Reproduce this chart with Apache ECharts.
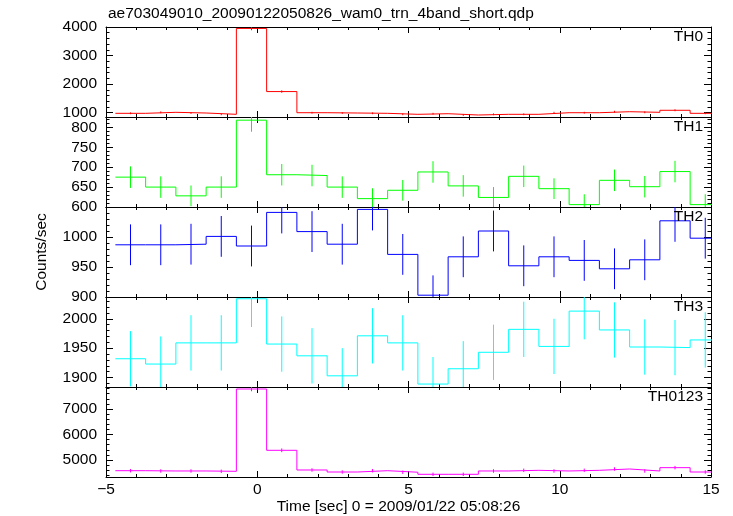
<!DOCTYPE html>
<html>
<head>
<meta charset="utf-8">
<script src="https://cdn.jsdelivr.net/npm/echarts@6/dist/echarts.min.js"></script>
<style>
html,body{margin:0;padding:0;background:#fff;}
#chart{width:733px;height:516px;}
</style>
</head>
<body>
<div id="chart"></div>
<script>
// ---- data ----
const titleText = 'ae703049010_20090122050826_wam0_trn_4band_short.qdp';
const xLabel = 'Time [sec] 0 = 2009/01/22 05:08:26';
const yLabel = 'Counts/sec';
const panelNames = ['TH0', 'TH1', 'TH2', 'TH3', 'TH0123'];
const panelColors = ['#ff0000', '#00ff00', '#0000ff', '#00ffff', '#ff00ff'];

const binCenters = [-4.19, -3.19, -2.19, -1.19, -0.19, 0.81, 1.81, 2.81, 3.81, 4.81,
                    5.81, 6.81, 7.81, 8.81, 9.81, 10.81, 11.81, 12.81, 13.81, 14.81];
const binHalfWidth = 0.5;

const th0 = [979, 1014, 990, 944, 3950, 1740, 1000, 990, 979, 944, 965, 920, 944, 944, 1000, 1000, 1035, 1014, 1085, 979];
const th0Err = [31, 32, 31, 31, 63, 42, 32, 31, 31, 31, 31, 30, 31, 31, 32, 32, 32, 32, 33, 31];
const th1 = [675, 650, 628, 650, 818, 681, 679, 650, 621, 642, 688, 653, 624, 677, 646, 606, 667, 651, 689, 606];
const th1Err = [27, 27, 26, 27, 29, 27, 27, 27, 26, 26, 27, 27, 26, 27, 26, 26, 27, 27, 27, 26];
const th2 = [987, 987, 988, 1001, 985, 1041, 1009, 988, 1046, 971, 903, 967, 1010, 952, 967, 961, 947, 962, 1027, 998];
const th2Err = [34, 34, 34, 34, 34, 35, 34, 34, 35, 34, 33, 34, 34, 34, 34, 34, 34, 34, 35, 34];
const th3 = [1932, 1923, 1959, 1959, 2034, 1957, 1937, 1903, 1971, 1959, 1889, 1915, 1943, 1982, 1953, 2013, 1981, 1952, 1951, 1964];
const th3Err = [47, 47, 47, 47, 48, 47, 47, 47, 47, 47, 46, 47, 47, 47, 47, 48, 47, 47, 47, 47];
const th0123 = [4580, 4569, 4569, 4556, 7784, 5380, 4608, 4529, 4580, 4520, 4439, 4439, 4569, 4595, 4569, 4595, 4647, 4569, 4699, 4529];
const th0123Err = [68, 68, 68, 68, 88, 73, 68, 67, 68, 67, 67, 67, 68, 68, 68, 68, 68, 68, 69, 67];

const xMin = -5, xMax = 15;
const xTickLabels = [-5, 0, 5, 10, 15];

const yRanges = [[850, 4000], [600, 826], [900, 1050], [1884, 2037], [4333, 7863]];
const yTicksTH0 = [1000, 2000, 3000, 4000];
const yTicksTH1 = [600, 650, 700, 750, 800];
const yTicksTH2 = [900, 950, 1000];
const yTicksTH3 = [1900, 1950, 2000];
const yTicksTH0123 = [5000, 6000, 7000];
const yMinorStep = [200, 10, 10, 10, 200];

// ---- layout ----
const FONT = "'Liberation Sans', Arial, Helvetica, sans-serif";
const FS = 15.5;
const plotLeft = 106, plotRight = 22, plotTop = 27, panelH = 90;

const values = [th0, th1, th2, th3, th0123];
const errors = [th0Err, th1Err, th2Err, th3Err, th0123Err];
const majorTicks = [yTicksTH0, yTicksTH1, yTicksTH2, yTicksTH3, yTicksTH0123];

function minorList(range, step) {
  const out = [];
  let v = Math.ceil(range[0] / step) * step;
  for (; v <= range[1] + 1e-9; v += step) out.push(v);
  return out;
}

const grids = [], xAxes = [], yAxes = [], series = [], graphics = [];
const black = '#000';

for (let i = 0; i < 5; i++) {
  const top = plotTop + i * panelH;
  grids.push({ left: plotLeft, right: plotRight, top: top, height: panelH, containLabel: false });

  const last = i === 4;
  const xBase = {
    type: 'value', gridIndex: i, min: xMin, max: xMax, interval: 5,
    axisLine: { show: true, onZero: false, lineStyle: { color: black, width: 1 } },
    axisTick: { show: true, inside: true, length: 6, lineStyle: { color: black } },
    minorTick: { show: true, splitNumber: 5, length: 3, lineStyle: { color: black } },
    splitLine: { show: false }, minorSplitLine: { show: false }
  };
  xAxes.push(Object.assign({}, xBase, {
    position: 'bottom',
    axisLabel: {
      show: last, color: black, fontSize: FS, fontFamily: FONT, margin: 5,
      customValues: xTickLabels,
      formatter: v => (v < 0 ? '\u2212' + Math.abs(v) : String(v))
    },
    name: last ? xLabel : '', nameLocation: 'middle', nameGap: 22,
    nameTextStyle: { color: black, fontSize: FS, fontFamily: FONT, padding: [0, 20, 0, 0] }
  }));
  xAxes.push(Object.assign({}, xBase, { position: 'top', axisLabel: { show: false } }));

  const r = yRanges[i];
  const minors = minorList(r, yMinorStep[i]);
  const yBase = {
    type: 'value', gridIndex: i, min: r[0], max: r[1], scale: true,
    splitLine: { show: false }, minorSplitLine: { show: false }
  };
  // left main
  yAxes.push(Object.assign({}, yBase, {
    position: 'left',
    axisLine: { show: true, onZero: false, lineStyle: { color: black } },
    axisTick: { show: true, inside: true, length: 7, customValues: majorTicks[i], lineStyle: { color: black } },
    axisLabel: { show: true, color: black, fontSize: FS, fontFamily: FONT, margin: 9,
                 customValues: majorTicks[i], formatter: v => String(v) },
    name: i === 2 ? yLabel : '', nameLocation: 'middle', nameRotate: 90, nameGap: 56,
    nameTextStyle: { color: black, fontSize: FS, fontFamily: FONT }
  }));
  // left minor
  yAxes.push(Object.assign({}, yBase, {
    position: 'left',
    axisLine: { show: false, onZero: false },
    axisTick: { show: true, inside: true, length: 3.5, customValues: minors, lineStyle: { color: black } },
    axisLabel: { show: false }
  }));
  // right main
  yAxes.push(Object.assign({}, yBase, {
    position: 'right',
    axisLine: { show: true, onZero: false, lineStyle: { color: black } },
    axisTick: { show: true, inside: true, length: 7, customValues: majorTicks[i], lineStyle: { color: black } },
    axisLabel: { show: false }
  }));
  // right minor
  yAxes.push(Object.assign({}, yBase, {
    position: 'right',
    axisLine: { show: false, onZero: false },
    axisTick: { show: true, inside: true, length: 3.5, customValues: minors, lineStyle: { color: black } },
    axisLabel: { show: false }
  }));

  // step histogram built from bin centres
  const stepData = [];
  const errData = [];
  for (let k = 0; k < binCenters.length; k++) {
    stepData.push([binCenters[k] - binHalfWidth, values[i][k]]);
    stepData.push([binCenters[k] + binHalfWidth, values[i][k]]);
    errData.push([binCenters[k], values[i][k], errors[i][k]]);
  }
  const color = panelColors[i];
  series.push({
    type: 'line', xAxisIndex: 2 * i, yAxisIndex: 4 * i, data: stepData,
    symbol: 'none', clip: true, animation: false,
    lineStyle: { color: color, width: 1 }
  });
  series.push({
    type: 'custom', xAxisIndex: 2 * i, yAxisIndex: 4 * i, data: errData, animation: false,
    encode: { x: 0, y: 1 },
    renderItem: function (params, api) {
      const x = api.value(0), v = api.value(1), e = api.value(2);
      const p1 = api.coord([x, v - e]);
      const p2 = api.coord([x, v + e]);
      const cs = params.coordSys;
      const yTop = cs.y, yBot = cs.y + cs.height;
      const ya = Math.min(Math.max(p1[1], yTop), yBot);
      const yb = Math.min(Math.max(p2[1], yTop), yBot);
      if (p1[0] < cs.x || p1[0] > cs.x + cs.width) return null;
      return {
        type: 'line',
        shape: { x1: p1[0], y1: ya, x2: p2[0], y2: yb },
        style: { stroke: color, lineWidth: 1 }
      };
    }
  });

  graphics.push({
    type: 'text', z: 100,
    style: {
      text: panelNames[i], x: 733 - plotRight - 8, y: top + 10,
      textAlign: 'right', textVerticalAlign: 'middle',
      fill: black, fontSize: FS, fontFamily: FONT
    }
  });
}

const chart = echarts.init(document.getElementById('chart'), null, { renderer: 'canvas' });
chart.setOption({
  backgroundColor: '#fff',
  animation: false,
  title: {
    text: titleText, left: 108, top: 6, padding: 0,
    textStyle: { color: black, fontSize: FS, fontWeight: 'normal', fontFamily: FONT }
  },
  grid: grids,
  xAxis: xAxes,
  yAxis: yAxes,
  series: series,
  graphic: graphics
});
</script>
</body>
</html>
